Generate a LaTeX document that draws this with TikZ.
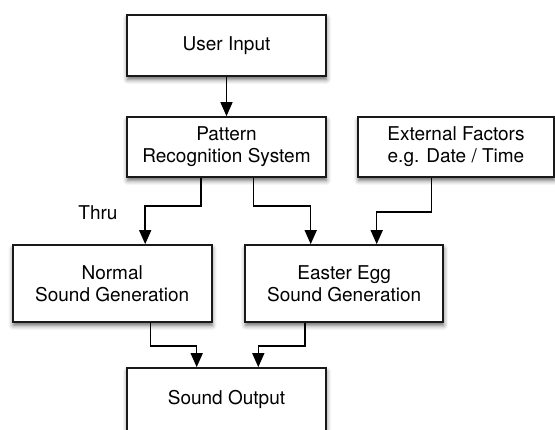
\documentclass[tikz,border=0pt]{standalone}
\usepackage{fontspec}
\setmainfont{TeX Gyre Heros}
\usetikzlibrary{arrows.meta,shadows.blur}

\begin{document}
\begin{tikzpicture}[x=1pt,y=-1pt]
\tikzstyle{every node}=[font=\fontsize{19}{22}\selectfont]
\tikzstyle{box}=[shape=rectangle,draw=black!90,line width=1.7pt,fill=white,align=center,minimum width=199pt,minimum height=61pt,inner sep=0pt,blur shadow={shadow xshift=0.5pt,shadow yshift=-3.5pt,shadow blur radius=4.5pt,shadow opacity=60}]
\tikzstyle{wire}=[line width=1.5pt,-{Triangle[length=14pt,width=12pt]}]

\clip (0,0) rectangle (555,430);

\node[box] (A) at (226.5,45.5) {User Input};
\node[box,minimum height=60pt] (B) at (226.5,147) {Pattern\\Recognition System};
\node[box,minimum height=60pt,minimum width=196pt] (C) at (456,147) {External Factors\\e.g. Date / Time};
\node[box,minimum height=77pt] (D) at (112.2,283.5) {Normal\\Sound Generation};
\node[box,minimum height=77pt,minimum width=198pt] (E) at (344.2,283.5) {Easter Egg\\Sound Generation};
\node[box,minimum height=63pt] (F) at (226.5,399.5) {Sound Output};
\node (T) at (98,213) {Thru};

\draw[wire] (A) -- (B);
\draw[wire] ([xshift=-25.5pt]B.south) -- ++(0,28) -| ([xshift=33pt]D.north);
\draw[wire] ([xshift=26.8pt]B.south) -- ++(0,28) -| ([xshift=-33.5pt]E.north);
\draw[wire] ([xshift=-24.3pt]C.south) -- ++(0,34) -| ([xshift=32.5pt]E.north);
\draw[wire] ([xshift=38.5pt]D.south) -- ++(0,23) -| ([xshift=-29.8pt]F.north);
\draw[wire] ([xshift=-39.2pt]E.south) -- ++(0,23) -| ([xshift=31.8pt]F.north);

\end{tikzpicture}
\end{document}
